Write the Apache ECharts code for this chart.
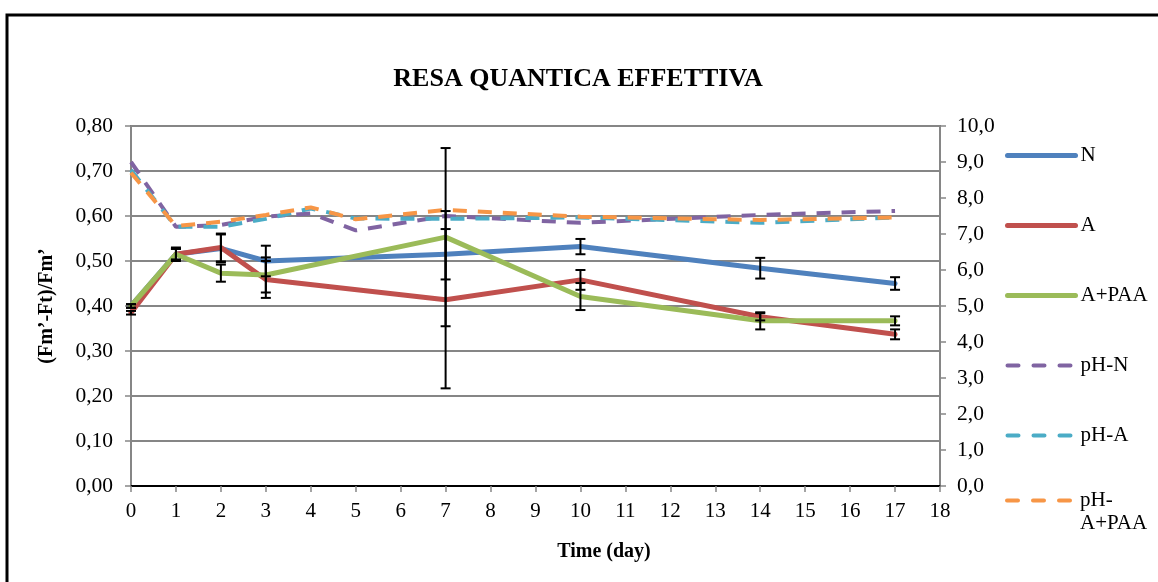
<!DOCTYPE html>
<html>
<head>
<meta charset="utf-8">
<script src="https://cdn.jsdelivr.net/npm/echarts@6/dist/echarts.min.js"></script>
<style>
html,body{margin:0;padding:0;background:#fff;}
#chart{width:1158px;height:582px;}
</style>
</head>
<body>
<div id="chart"></div>
<script>
// ---- data ----
const days = [0, 1, 2, 3, 7, 10, 14, 17];
const valN = [0.400, 0.515, 0.528, 0.500, 0.515, 0.532, 0.484, 0.450];
const valA = [0.385, 0.515, 0.530, 0.459, 0.414, 0.458, 0.376, 0.337];
const valAPAA = [0.400, 0.515, 0.473, 0.469, 0.553, 0.421, 0.367, 0.367];
const errN = [0.004, 0.015, 0.031, 0.034, 0.056, 0.017, 0.023, 0.014];
const errA = [0.004, 0.012, 0.031, 0.041, 0.197, 0.022, 0.008, 0.011];
const errAPAA = [0.004, 0.012, 0.019, 0.039, 0.198, 0.030, 0.019, 0.010];
const phDays = [0, 1, 2, 3, 4, 5, 7, 10, 14, 17];
const phN = [9.00, 7.20, 7.25, 7.48, 7.57, 7.10, 7.50, 7.31, 7.53, 7.64];
const phA = [8.78, 7.20, 7.20, 7.42, 7.71, 7.43, 7.42, 7.46, 7.31, 7.46];
const phAPAA = [8.70, 7.22, 7.34, 7.53, 7.74, 7.41, 7.67, 7.48, 7.39, 7.46];
const leftTicks = ['0,00','0,10','0,20','0,30','0,40','0,50','0,60','0,70','0,80'];
const rightTicks = ['0,0','1,0','2,0','3,0','4,0','5,0','6,0','7,0','8,0','9,0','10,0'];

const FONT = 'Liberation Serif';
const C = { N: '#4F81BD', A: '#C0504D', APAA: '#9BBB59', pN: '#8064A2', pA: '#4BACC6', pAPAA: '#F79646' };
const DASH_SERIES = [14, 11];
const DASH_LEGEND = [11, 15];
const pairs = (xs, ys) => xs.map((x, i) => [x, ys[i]]);
const errData = (vals, errs) => days.map((d, i) => [d, vals[i] - errs[i], vals[i] + errs[i]]);

function errRender(params, api) {
  const x = api.value(0);
  const lo = api.coord([x, api.value(1)]);
  const hi = api.coord([x, api.value(2)]);
  const cw = 5;
  const st = { stroke: '#000', lineWidth: 2 };
  return {
    type: 'group',
    children: [
      { type: 'line', shape: { x1: lo[0], y1: lo[1], x2: hi[0], y2: hi[1] }, style: st },
      { type: 'line', shape: { x1: lo[0] - cw, y1: lo[1], x2: lo[0] + cw, y2: lo[1] }, style: st },
      { type: 'line', shape: { x1: hi[0] - cw, y1: hi[1], x2: hi[0] + cw, y2: hi[1] }, style: st }
    ]
  };
}

const solid = (name, color, ys) => ({
  name, type: 'line', yAxisIndex: 0, data: pairs(days, ys), symbol: 'none',
  lineStyle: { color, width: 5, cap: 'round', join: 'round' }, itemStyle: { color }, z: 3
});
const dashed = (name, color, ys) => ({
  name, type: 'line', yAxisIndex: 1, data: pairs(phDays, ys), symbol: 'none',
  lineStyle: { color, width: 4, type: DASH_SERIES }, itemStyle: { color }, z: 2
});
const errSeries = (vals, errs) => ({
  type: 'custom', yAxisIndex: 0, data: errData(vals, errs), renderItem: errRender, z: 10, silent: true
});
const hidden = { opacity: 0, borderWidth: 0 };
const legSolid = (name, color) => ({ name, itemStyle: hidden, lineStyle: { color, width: 5, cap: 'round' } });
const legDash = (name, color) => ({ name, itemStyle: hidden, lineStyle: { color, width: 4, type: DASH_LEGEND, cap: 'round' } });

const chart = echarts.init(document.getElementById('chart'));
chart.setOption({
  animation: false,
  backgroundColor: '#fff',
  textStyle: { fontFamily: FONT, color: '#000' },
  title: {
    text: 'RESA QUANTICA EFFETTIVA', left: 573, top: 61, textAlign: 'center',
    textStyle: { fontFamily: FONT, fontWeight: 'bold', fontSize: 26, color: '#000' }
  },
  grid: { left: 131, right: 218, top: 126, bottom: 96, show: true, borderColor: '#000', borderWidth: 2 },
  legend: [
    {
      orient: 'vertical', left: 1000, top: 140, itemWidth: 68, itemHeight: 20, itemGap: 49,
      data: [legSolid('N', C.N), legSolid('A', C.A), legSolid('A+PAA', C.APAA), legDash('pH-N', C.pN), legDash('pH-A', C.pA)],
      textStyle: { fontFamily: FONT, fontSize: 21, color: '#000', lineHeight: 20 }
    },
    {
      orient: 'vertical', left: 1000, top: 461, itemWidth: 68, itemHeight: 20,
      data: [legDash('pH-A+PAA', C.pAPAA)],
      formatter: n => ' \npH-\nA+PAA',
      textStyle: { fontFamily: FONT, fontSize: 21, color: '#000', lineHeight: 23 }
    }
  ],
  xAxis: {
    type: 'value', min: 0, max: 18, interval: 1,
    axisLine: { show: true, lineStyle: { color: '#000', width: 2 } },
    axisTick: { show: true, inside: false, length: 6, lineStyle: { color: '#868686', width: 1.5 } },
    axisLabel: { fontFamily: FONT, fontSize: 21, color: '#000', margin: 15 },
    splitLine: { show: false }
  },
  yAxis: [
    {
      type: 'value', min: 0, max: 0.8, interval: 0.1, position: 'left',
      name: '(Fm\u2019-Ft)/Fm\u2019', nameLocation: 'middle', nameGap: 74, nameRotate: 90,
      nameTextStyle: { fontFamily: FONT, fontWeight: 'bold', fontSize: 20, color: '#000' },
      axisLine: { show: true, lineStyle: { color: '#868686', width: 2 } },
      axisTick: { show: true, length: 6, lineStyle: { color: '#868686', width: 1.5 } },
      axisLabel: { fontFamily: FONT, fontSize: 21.5, color: '#000', margin: 18,
        formatter: (v) => leftTicks[Math.round(v * 10)] },
      splitLine: { show: true, lineStyle: { color: '#868686', width: 2 } }
    },
    {
      type: 'value', min: 0, max: 10, interval: 1, position: 'right',
      axisLine: { show: true, lineStyle: { color: '#868686', width: 2 } },
      axisTick: { show: true, length: 6, lineStyle: { color: '#868686', width: 1.5 } },
      axisLabel: { fontFamily: FONT, fontSize: 21.5, color: '#000', margin: 17,
        formatter: (v) => rightTicks[Math.round(v)] },
      splitLine: { show: false }
    }
  ],
  graphic: [
    { type: 'rect', shape: { x: 7, y: 15, width: 1300, height: 700 }, style: { fill: null, stroke: '#000', lineWidth: 3 }, z: 100, silent: true },
    { type: 'text', x: 604, y: 552, style: { text: 'Time (day)', font: 'bold 20px "Liberation Serif"', fill: '#000', textAlign: 'center', textVerticalAlign: 'middle' } }
  ],
  series: [
    dashed('pH-N', C.pN, phN),
    dashed('pH-A', C.pA, phA),
    dashed('pH-A+PAA', C.pAPAA, phAPAA),
    solid('N', C.N, valN),
    solid('A', C.A, valA),
    solid('A+PAA', C.APAA, valAPAA),
    errSeries(valN, errN),
    errSeries(valA, errA),
    errSeries(valAPAA, errAPAA)
  ]
});
</script>
</body>
</html>
